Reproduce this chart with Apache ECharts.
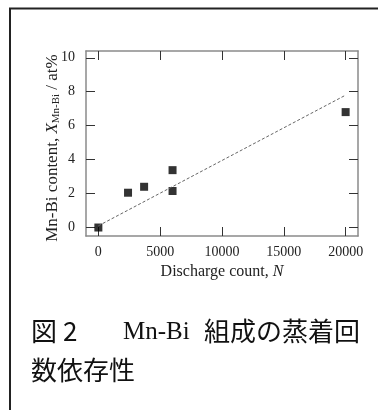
<!DOCTYPE html>
<html><head><meta charset="utf-8">
<script src="https://cdn.jsdelivr.net/npm/echarts@6/dist/echarts.min.js"></script>
<style>html,body{margin:0;padding:0;background:#fff}#c{width:378px;height:410px}</style>
</head><body><div id="c"></div>
<script>
const dischargeCount = [0, 2400, 3700, 6000, 6000, 20000];
const mnBiContent = [0, 2.05, 2.4, 3.38, 2.15, 6.8];
const fitX = [0, 20000];
const fitY = [0.1, 7.8];
const xTicks = [0, 5000, 10000, 15000, 20000];
const yTicks = [0, 2, 4, 6, 8, 10];
const captionLine2 = '数依存性';
const captionCJK = '組成の蒸着回';

const chart = echarts.init(document.getElementById('c'), null, {renderer: 'canvas'});
const serif = '"Liberation Serif","DejaVu Serif",serif';
const cjk = '"Noto Sans CJK JP"';
const lineC = '#8a8a8a';
const tickC = '#333';
function xAx(pos, showLabel) {
  return {
    type: 'value', position: pos, min: -1000, max: 21000,
    axisLine: {show: true, onZero: false, lineStyle: {color: lineC, width: 1.5}},
    axisTick: {show: true, inside: true, length: 9, customValues: xTicks, lineStyle: {color: tickC}},
    axisLabel: {show: showLabel, customValues: xTicks, formatter: v => String(v), color: '#222', fontFamily: serif, fontSize: 14, margin: 9},
    splitLine: {show: false},
    name: showLabel ? '{n|Discharge count, }{i|N}' : '',
    nameLocation: 'middle', nameGap: 28,
    nameTextStyle: {rich: {n: {fontFamily: serif, fontSize: 16, color: '#222'}, i: {fontFamily: serif, fontStyle: 'italic', fontSize: 16, color: '#222'}}}
  };
}
function yAx(pos, showLabel) {
  return {
    type: 'value', position: pos, min: -0.5, max: 10.4,
    axisLine: {show: true, onZero: false, lineStyle: {color: lineC, width: 1.5}},
    axisTick: {show: true, inside: true, length: 9, customValues: yTicks, lineStyle: {color: tickC}},
    axisLabel: {show: showLabel, customValues: yTicks, color: '#222', fontFamily: serif, fontSize: 14, margin: 11},
    splitLine: {show: false}
  };
}
chart.setOption({
  animation: false,
  backgroundColor: '#fff',
  grid: {left: 86, right: 20, top: 51, bottom: 174},
  xAxis: [xAx('bottom', true), xAx('top', false)],
  yAxis: [yAx('left', true), yAx('right', false)],
  graphic: [
    {type: 'line', shape: {x1: 9, y1: 8.5, x2: 378, y2: 8.5}, style: {stroke: '#222', lineWidth: 2}},
    {type: 'line', shape: {x1: 10, y1: 8, x2: 10, y2: 410}, style: {stroke: '#222', lineWidth: 2}},
    {type: 'text', x: 53, y: 148, rotation: Math.PI / 2,
      style: {
        text: '{n|Mn-Bi content, }{i|X}{s|Mn-Bi}{n| / at%}',
        align: 'center', verticalAlign: 'middle',
        rich: {
          n: {fontFamily: serif, fontSize: 17, fill: '#222'},
          i: {fontFamily: serif, fontStyle: 'italic', fontSize: 17, fill: '#222'},
          s: {fontFamily: serif, fontSize: 11, fill: '#222', verticalAlign: 'bottom', padding: [7, 0, 0, 0]}
        }
      }
    },
    {type: 'text', x: 31, y: 331, style: {text: '図', fontFamily: cjk, fontSize: 26, fill: '#111', verticalAlign: 'middle'}},
    {type: 'text', x: 63, y: 331, style: {text: '2', fontFamily: cjk, fontSize: 26, fill: '#111', verticalAlign: 'middle'}},
    {type: 'text', x: 123, y: 332, style: {text: 'Mn-Bi', fontFamily: serif, fontSize: 25, fill: '#111', verticalAlign: 'middle'}},
    {type: 'text', x: 204, y: 331, style: {text: captionCJK, fontFamily: cjk, fontSize: 26, fill: '#111', verticalAlign: 'middle'}},
    {type: 'text', x: 31, y: 370,
      style: {text: captionLine2, fontFamily: cjk, fontSize: 26, fill: '#111', verticalAlign: 'middle'}
    }
  ],
  series: [
    {type: 'line', data: fitX.map((x, i) => [x, fitY[i]]), symbol: 'none', silent: true,
      lineStyle: {color: '#666', width: 1, type: [3, 2]}},
    {type: 'scatter', data: dischargeCount.map((x, i) => [x, mnBiContent[i]]), symbol: 'rect', symbolSize: 8,
      itemStyle: {color: '#000'}}
  ]
});
</script></body></html>
